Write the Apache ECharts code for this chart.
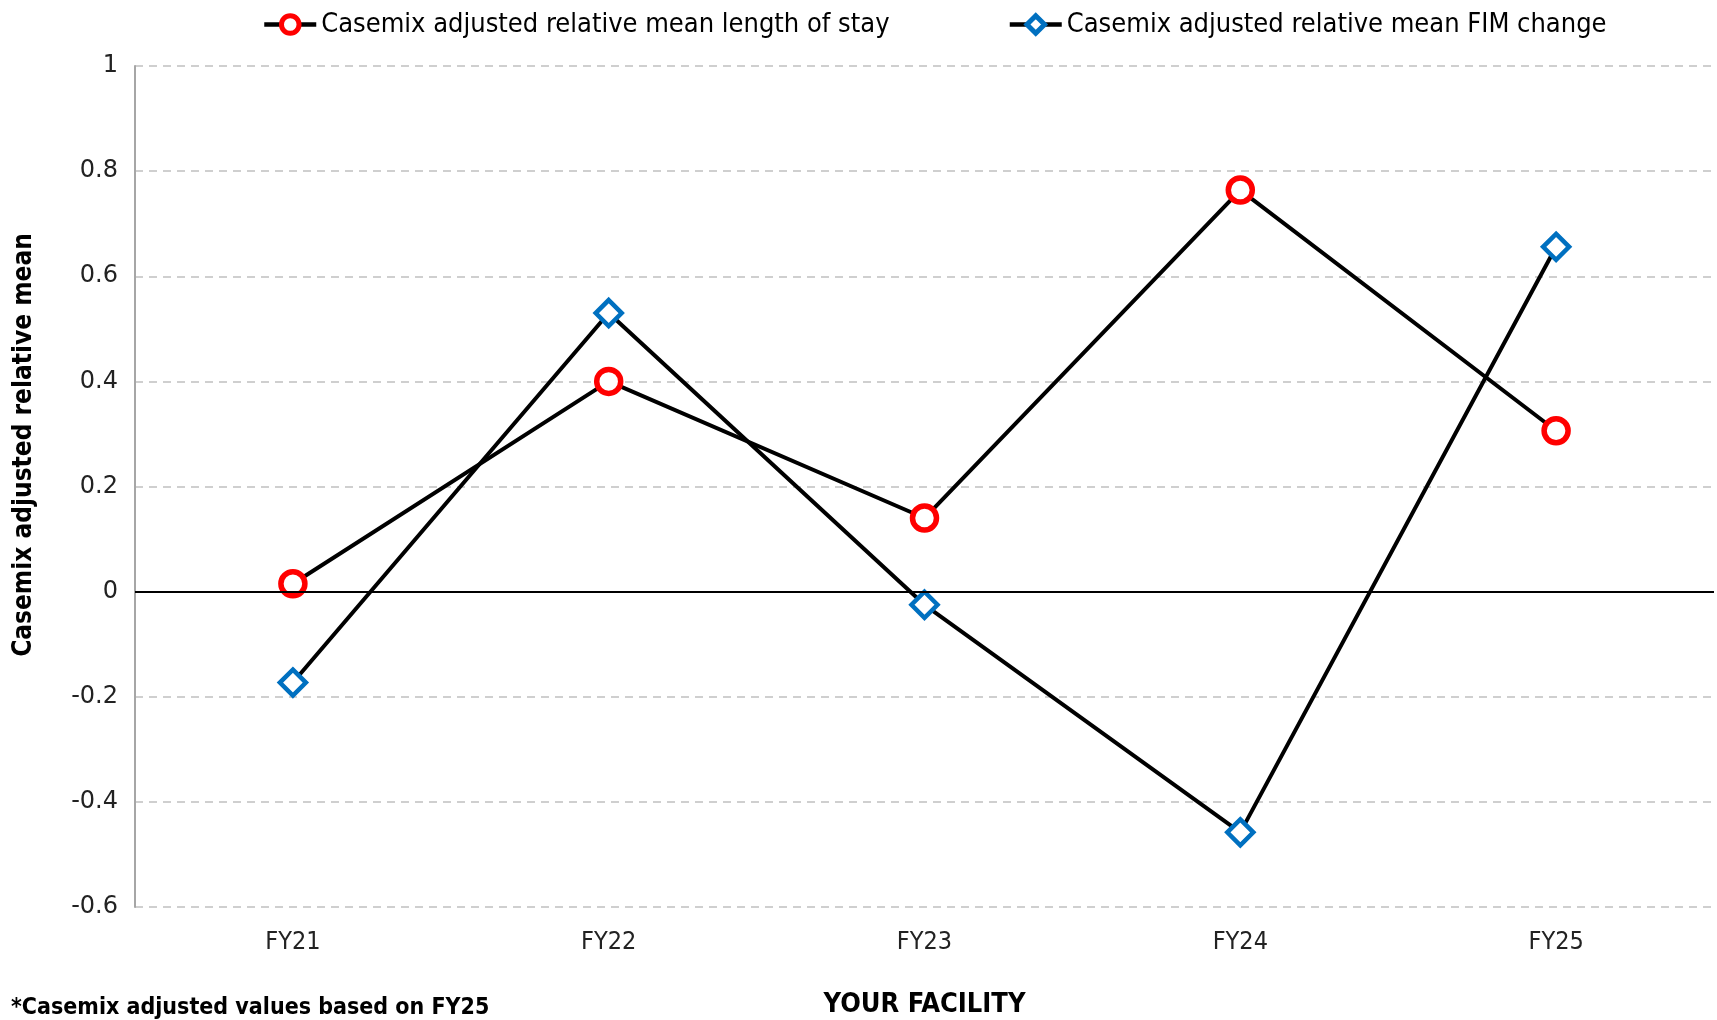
<!DOCTYPE html>
<html>
<head>
<meta charset="utf-8">
<script src="https://cdn.jsdelivr.net/npm/echarts@6/dist/echarts.min.js"></script>
<style>
html,body{margin:0;padding:0;background:#fff;}
#chart{width:1717px;height:1020px;}
</style>
</head>
<body>
<div id="chart"></div>
<script>
var categories = ['FY21', 'FY22', 'FY23', 'FY24', 'FY25'];
var losValues = [0.015, 0.40, 0.14, 0.764, 0.306];
var fimValues = [-0.173, 0.53, -0.025, -0.458, 0.656];
var seriesNames = ['Casemix adjusted relative mean length of stay', 'Casemix adjusted relative mean FIM change'];
var yAxisTitle = 'Casemix adjusted relative mean';
var xAxisTitle = 'YOUR FACILITY';
var footnote = '*Casemix adjusted values based on FY25';

var FONT = '"Liberation Sans Narrow", "DejaVu Sans Condensed", "Liberation Sans", sans-serif';
var chart = echarts.init(document.getElementById('chart'));
chart.setOption({
  animation: false,
  backgroundColor: '#fff',
  legend: {
    top: 6,
    left: 257,
    itemWidth: 52,
    itemHeight: 22,
    itemGap: 118,
    itemStyle: { borderWidth: 5 },
    lineStyle: { width: 4.5 },
    textStyle: { fontFamily: FONT, fontSize: 27, color: '#000' },
    data: seriesNames
  },
  grid: { left: 135, right: 3, top: 66, bottom: 113, containLabel: false, outerBoundsMode: 'none' },
  xAxis: {
    type: 'category',
    data: categories,
    boundaryGap: true,
    axisLine: { show: false, onZero: false },
    axisTick: { show: false },
    axisLabel: { fontFamily: FONT, fontSize: 25, color: '#222', margin: 23 },
    name: xAxisTitle,
    nameLocation: 'middle',
    nameGap: 84,
    nameTextStyle: { fontFamily: FONT, fontSize: 27, fontWeight: 'bold', color: '#000' }
  },
  yAxis: {
    type: 'value',
    min: -0.6,
    max: 1,
    interval: 0.2,
    axisLine: { show: true, lineStyle: { color: '#a6a6a6', width: 2 } },
    axisTick: { show: false },
    splitLine: { show: true, lineStyle: { color: '#c0c0c0', width: 1.5, type: [8, 6] } },
    axisLabel: {
      fontFamily: '"DejaVu Sans", sans-serif', fontSize: 24, color: '#222', margin: 17,
      formatter: function (v) { return String(Math.round(v * 10) / 10); }
    }
  },
  graphic: [{
    type: 'text',
    left: 11,
    top: 997,
    style: { text: footnote, fontFamily: FONT, fontSize: 23, fontWeight: 'bold', fill: '#000' }
  }, {
    type: 'text',
    x: 24,
    y: 445,
    rotation: Math.PI / 2,
    style: { text: yAxisTitle, fontFamily: FONT, fontSize: 26, fontWeight: 'bold', fill: '#000',
      align: 'center', verticalAlign: 'middle' }
  }],
  series: [
    {
      name: seriesNames[0],
      type: 'line',
      data: losValues,
      symbol: 'circle',
      symbolSize: 24,
      z: 3,
      lineStyle: { color: '#000', width: 4 },
      itemStyle: { color: '#fff', borderColor: '#ff0000', borderWidth: 5.5 },
      markLine: {
        silent: true,
        symbol: 'none',
        label: { show: false },
        lineStyle: { color: '#000', width: 2, type: 'solid' },
        data: [{ yAxis: 0 }]
      }
    },
    {
      name: seriesNames[1],
      type: 'line',
      data: fimValues,
      symbol: 'diamond',
      symbolSize: 26,
      z: 4,
      lineStyle: { color: '#000', width: 4 },
      itemStyle: { color: '#fff', borderColor: '#0070c0', borderWidth: 4.5 }
    }
  ]
});
</script>
</body>
</html>
